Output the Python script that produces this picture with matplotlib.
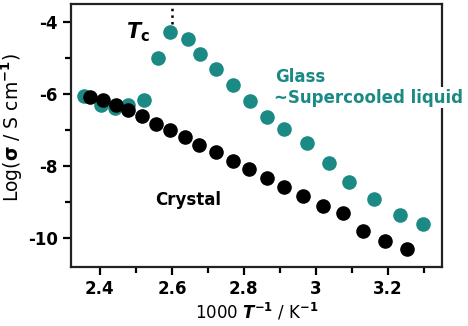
import matplotlib
matplotlib.use("Agg")
import matplotlib.pyplot as plt
from matplotlib.ticker import MultipleLocator

# glass / supercooled liquid branch
glass_x = [2.356, 2.403, 2.442, 2.478, 2.522, 2.561, 2.594, 2.644, 2.678, 2.722,
           2.769, 2.817, 2.864, 2.911, 2.975, 3.036, 3.092, 3.161, 3.233, 3.297]
glass_y = [-6.06, -6.31, -6.39, -6.31, -6.17, -5.00, -4.28, -4.47, -4.89, -5.31,
           -5.75, -6.19, -6.64, -6.97, -7.36, -7.92, -8.44, -8.92, -9.36, -9.61]

# crystalline phase
crystal_x = [2.372, 2.408, 2.444, 2.478, 2.517, 2.556, 2.594, 2.636, 2.675, 2.722,
             2.769, 2.814, 2.864, 2.911, 2.964, 3.019, 3.075, 3.131, 3.192, 3.253]
crystal_y = [-6.08, -6.17, -6.31, -6.44, -6.61, -6.83, -7.00, -7.19, -7.42, -7.61,
             -7.86, -8.08, -8.33, -8.58, -8.83, -9.11, -9.31, -9.81, -10.08, -10.31]

tc_x = 2.6
teal = "#1b8a85"

plt.rcParams['font.family'] = ['DejaVu Sans']
plt.rcParams['font.weight'] = 'bold'

fig = plt.figure(figsize=(4.68, 3.26), dpi=100)
ax = fig.add_axes([0.152, 0.181, 0.792, 0.807])

ax.plot(glass_x, glass_y, 'o', color=teal, ms=10.5, mec='none', zorder=3)
ax.plot(crystal_x, crystal_y, 'o', color='black', ms=10.5, mec='none', zorder=4)

# dotted marker for Tc
ax.plot([tc_x, tc_x], [-4.05, -3.5], ls=':', color='black', lw=1.8, zorder=2)
ax.text(2.507, -4.28, r'$\bf{\it{T}}_{\bf{c}}$', fontsize=15, ha='center', va='center')

ax.text(2.886, -5.53, 'Glass', color=teal, fontsize=12, ha='left', va='center')
ax.text(2.884, -6.1, '~Supercooled liquid', color=teal, fontsize=12,
        ha='left', va='center',
        bbox=dict(facecolor='white', edgecolor='none', pad=1))
ax.text(2.553, -8.95, 'Crystal', color='black', fontsize=12, ha='left', va='center')

ax.set_xlim(2.32, 3.35)
ax.set_ylim(-10.8, -3.5)
ax.xaxis.set_minor_locator(MultipleLocator(0.1))
ax.yaxis.set_minor_locator(MultipleLocator(1))
ax.set_xticks([2.4, 2.6, 2.8, 3.0, 3.2])
ax.set_xticklabels(['2.4', '2.6', '2.8', '3', '3.2'])
ax.set_yticks([-4, -6, -8, -10])
ax.set_yticklabels(['-4', '-6', '-8', '-10'])

for s in ax.spines.values():
    s.set_linewidth(1.6)
    s.set_color('#222222')
ax.tick_params(which='major', length=6, width=1.6, labelsize=12, direction='out')
ax.tick_params(which='minor', length=4, width=1.6, direction='out')

ax.set_xlabel(r'1000 $\mathbf{\it{T}}^{\mathbf{-1}}$ / K$^{\mathbf{-1}}$', fontsize=12, labelpad=2)
ax.set_ylabel(r'Log($\mathbf{\sigma}$ / S cm$^{\mathbf{-1}}$)', fontsize=13.5)
ax.yaxis.set_label_coords(-0.125, 0.53)

fig.savefig('out.png', dpi=100)
